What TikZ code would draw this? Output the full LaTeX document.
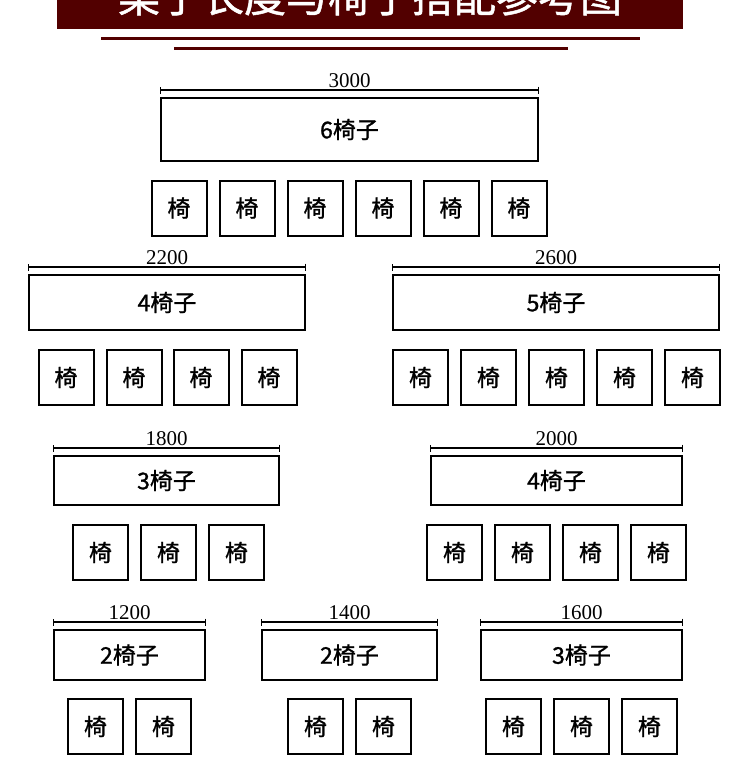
\documentclass[tikz,border=0pt]{standalone}
\usepackage{fontspec}
\setmainfont{Liberation Serif}
\newfontfamily\cjk[FakeBold=1.2]{Noto Sans CJK SC}
\usetikzlibrary{arrows.meta,calc}
\definecolor{maroon}{HTML}{520000}
\tikzset{
  tbl/.style={draw=black, line width=2pt, inner sep=0pt, font=\cjk\fontsize{23}{23}\selectfont},
  chair/.style={draw=black, line width=2pt, minimum width=55pt, minimum height=55pt, inner sep=0pt, font=\cjk\fontsize{23}{23}\selectfont},
  dimline/.style={line width=1.2pt, {Bar[width=7pt,line width=1pt]}-{Bar[width=7pt,line width=1pt]}},
  dimtext/.style={font=\fontsize{21}{21}\selectfont, inner sep=0pt, anchor=base}
}
\newcommand{\tablegroup}[7]{%
  % #1 name, #2 cx, #3 cy, #4 w, #5 h, #6 label, #7 dim
  \node[tbl, minimum width=#4pt, minimum height=#5pt] (#1) at (#2,#3) {#6};
  \coordinate (#1dl) at ($(#1.north west)+(0,7pt)$);
  \coordinate (#1dr) at ($(#1.north east)+(0,7pt)$);
  \draw[dimline] (#1dl) -- (#1dr);
  \node[dimtext] (#1num) at ($(#1dl)!0.5!(#1dr)+(0,3pt)$) {#7};
}
\begin{document}
\begin{tikzpicture}[x=1pt,y=-1pt]
\useasboundingbox (0,0) rectangle (750,780);
% banner
\fill[maroon] (57,0) rectangle (683,29);
\begin{scope}
  \clip (57,0) rectangle (683,29);
  \node[text=white, font=\cjk\fontsize{42}{42}\selectfont, anchor=base, inner sep=0pt] (title) at (370,12) {桌子长度与椅子搭配参考图};
\end{scope}
\fill[maroon] (101,37) rectangle (640,40);
\fill[maroon] (174,47) rectangle (568,50);

% row 1
\tablegroup{ta}{349.5}{129.5}{377}{63}{6椅子}{3000}
\foreach \x [count=\i] in {179,247,315,383,451,519}
  \node[chair] (ca\i) at (\x,208) {椅};

% row 2
\tablegroup{tb}{167}{302.5}{276}{55}{4椅子}{2200}
\foreach \x [count=\i] in {66,134,201,269}
  \node[chair] (cb\i) at (\x,377.5) {椅};
\tablegroup{tc}{556}{302.5}{326}{55}{5椅子}{2600}
\foreach \x [count=\i] in {420.5,488.5,556.5,624.5,692.5}
  \node[chair] (cc\i) at (\x,377.5) {椅};

% row 3
\tablegroup{td}{166.5}{480.5}{225}{49}{3椅子}{1800}
\foreach \x [count=\i] in {100.5,168.5,236.5}
  \node[chair] (cd\i) at (\x,552.5) {椅};
\tablegroup{te}{556.5}{480.5}{251}{49}{4椅子}{2000}
\foreach \x [count=\i] in {454.5,522.5,590.5,658.5}
  \node[chair] (ce\i) at (\x,552.5) {椅};

% row 4
\tablegroup{tf}{129.5}{655}{151}{50}{2椅子}{1200}
\foreach \x [count=\i] in {95.5,163.5}
  \node[chair] (cf\i) at (\x,726.5) {椅};
\tablegroup{tg}{349.5}{655}{175}{50}{2椅子}{1400}
\foreach \x [count=\i] in {315.5,383.5}
  \node[chair] (cg\i) at (\x,726.5) {椅};
\tablegroup{th}{581.5}{655}{201}{50}{3椅子}{1600}
\foreach \x [count=\i] in {513.5,581.5,649.5}
  \node[chair] (ch\i) at (\x,726.5) {椅};
\end{tikzpicture}
\end{document}
